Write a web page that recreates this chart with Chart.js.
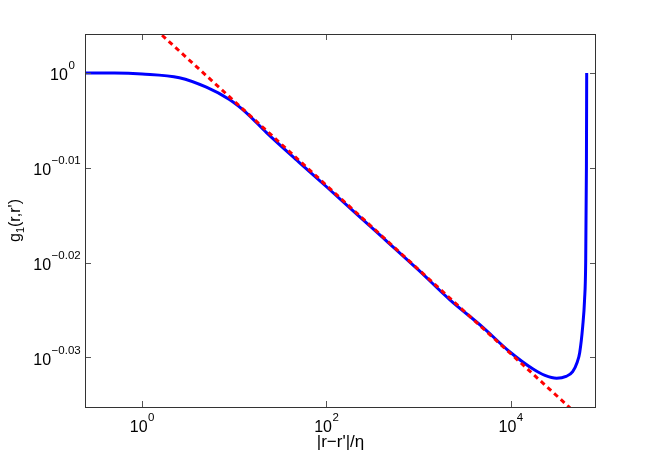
<!DOCTYPE html>
<html lang="en">
<head>
<meta charset="UTF-8">
<title>g1(r,r')</title>
<script src="https://cdn.jsdelivr.net/npm/chart.js@4"></script>
<style>
  html, body { margin: 0; padding: 0; background: #fff; }
</style>
</head>
<body>
<canvas id="chart" width="659" height="457"></canvas>
<script>
// everything is kept as log10 exponents
var blueLogX = [-0.622, -0.3, 0.0, 0.404, 0.697, 0.947, 1.131, 1.349, 1.7, 2.0, 2.5, 3.0, 3.336, 3.694, 3.987, 4.237, 4.37, 4.497, 4.6, 4.671, 4.72, 4.747, 4.78, 4.80, 4.812, 4.82, 4.823];
var blueLogY = [0, 0, -0.0001, -0.0005, -0.0015, -0.0028, -0.0042, -0.0063, -0.0094, -0.0120, -0.0164, -0.0208, -0.0239, -0.0268, -0.0294, -0.0312, -0.0319, -0.0322, -0.0320, -0.0315, -0.0305, -0.0295, -0.0267, -0.0239, -0.0200, -0.0100, 0];
var redLogX = [0, 5];
var redLogY = [0.0059, -0.0385];

var xTicks = [0, 2, 4];
var xTickLabels = ['0', '2', '4'];
var yTicks = [0, -0.01, -0.02, -0.03];
var yTickLabels = ['0', '\u22120.01', '\u22120.02', '\u22120.03'];
var xRange = [-0.62, 4.924];
var yRange = [-0.03523, 0.00411];

var xTitle = '|r\u2212r\'|/\u03b7';
var FONT = '"Liberation Sans", Arial, Helvetica, sans-serif';

function toPoints(lx, ly) {
    return lx.map(function (v, i) {
        return { x: Math.pow(10, v), y: Math.pow(10, ly[i]) };
    });
}

// "10" with a superscript, x is left edge
function drawPow(ctx, x, base, exp) {
    ctx.font = '16px ' + FONT;
    ctx.fillText('10', x, base);
    var w = ctx.measureText('10').width;
    ctx.font = '11.5px ' + FONT;
    ctx.fillText(exp, x + w + 0.5, base - 11);
}
function baseWidth(ctx) {
    ctx.font = '16px ' + FONT;
    return ctx.measureText('10').width;
}
function expWidth(ctx, exp) {
    ctx.font = '11.5px ' + FONT;
    return 0.5 + ctx.measureText(exp).width;
}

var framePlugin = {
    id: 'frame',
    afterDraw: function (chart) {
        var c = chart.ctx, a = chart.chartArea;
        var xs = chart.scales.x, ys = chart.scales.y;
        c.save();
        c.strokeStyle = '#555';
        c.lineWidth = 1;
        // inward tick marks on all four sides
        xTicks.forEach(function (e) {
            var px = Math.round(xs.getPixelForValue(Math.pow(10, e))) + 0.5;
            c.beginPath();
            c.moveTo(px, a.bottom); c.lineTo(px, a.bottom - 6);
            c.moveTo(px, a.top); c.lineTo(px, a.top + 6);
            c.stroke();
        });
        yTicks.forEach(function (e) {
            var py = Math.round(ys.getPixelForValue(Math.pow(10, e))) + 0.5;
            c.beginPath();
            c.moveTo(a.left, py); c.lineTo(a.left + 6, py);
            c.moveTo(a.right, py); c.lineTo(a.right - 6, py);
            c.stroke();
        });
        c.strokeStyle = '#333';
        c.strokeRect(a.left + 0.5, a.top + 0.5, a.right - a.left - 1, a.bottom - a.top);

        c.fillStyle = '#000';
        c.textBaseline = 'alphabetic';
        c.textAlign = 'left';
        xTicks.forEach(function (e, i) {
            var px = xs.getPixelForValue(Math.pow(10, e));
            var w = baseWidth(c) + expWidth(c, xTickLabels[i]);
            drawPow(c, px - w / 2, a.bottom + 25, xTickLabels[i]);
        });
        yTicks.forEach(function (e, i) {
            var py = ys.getPixelForValue(Math.pow(10, e));
            var right10 = a.left - 12 - 0.74 * expWidth(c, yTickLabels[i]);
            drawPow(c, right10 - baseWidth(c), py + 7.5, yTickLabels[i]);
        });

        // axis titles
        c.font = '17px ' + FONT;
        c.textAlign = 'center';
        c.fillText(xTitle, (a.left + a.right) / 2, 447);

        c.translate(20, (a.top + a.bottom) / 2);
        c.rotate(-Math.PI / 2);
        c.textAlign = 'left';
        c.font = '16px ' + FONT;
        var wg = c.measureText('g').width;
        var wr = c.measureText('(r,r\')').width;
        c.font = '11px ' + FONT;
        var w1 = c.measureText('1').width;
        var x0 = -(wg + w1 + wr) / 2;
        c.font = '16px ' + FONT;
        c.fillText('g', x0, 0);
        c.font = '11px ' + FONT;
        c.fillText('1', x0 + wg, 4);
        c.font = '16px ' + FONT;
        c.fillText('(r,r\')', x0 + wg + w1, 0);
        c.restore();
    }
};

var ctx = document.getElementById('chart').getContext('2d');
var chart = new Chart(ctx, {
    type: 'line',
    data: {
        datasets: [{
            label: 'power law',
            data: toPoints(redLogX, redLogY),
            borderColor: '#ff0000',
            borderWidth: 3,
            borderDash: [5, 4],
            pointRadius: 0,
            fill: false
        }, {
            label: 'g1',
            data: toPoints(blueLogX, blueLogY),
            borderColor: '#0000ff',
            borderWidth: 3,
            pointRadius: 0,
            cubicInterpolationMode: 'monotone',
            fill: false
        }]
    },
    options: {
        responsive: false,
        animation: false,
        layout: { padding: { left: 85, right: 63, top: 34, bottom: 50 } },
        plugins: { legend: { display: false }, tooltip: { enabled: false } },
        scales: {
            x: {
                type: 'logarithmic',
                display: false,
                bounds: 'data',
                min: Math.pow(10, xRange[0]),
                max: Math.pow(10, xRange[1])
            },
            y: {
                type: 'logarithmic',
                display: false,
                bounds: 'data',
                min: Math.pow(10, yRange[0]),
                max: Math.pow(10, yRange[1])
            }
        }
    },
    plugins: [framePlugin]
});
</script>
</body>
</html>
